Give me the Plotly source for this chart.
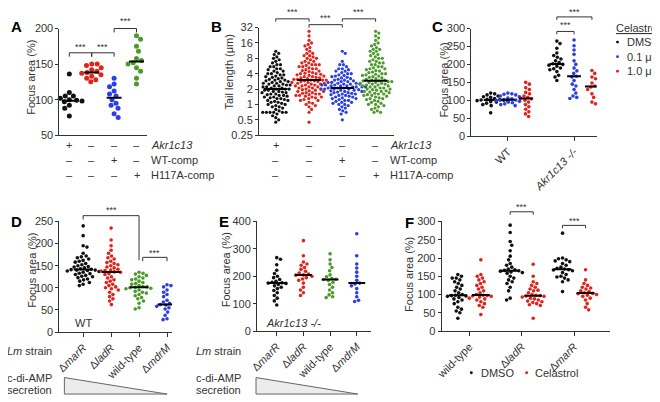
import numpy as np
import plotly.graph_objects as go

# page body has an 8px default margin; coordinates below are in screen pixels
OFF = 8
W, H = 660 - OFF, 402 - OFF
BLACK = '#111111'; RED = '#e2231a'; BLUE = '#2b3ee6'; GREEN = '#4c9a2a'
TXT = '#333333'
FONT = 'Arial, Liberation Sans, sans-serif'

# ---------------- data ----------------
# Panel A: focus area (%)
A_akr13 = [136, 110, 105, 105, 102, 100, 99, 98, 97, 96, 95, 92, 88, 77]
A_ko = [150, 150, 148, 145, 142, 140, 138, 137, 135, 133, 130, 128, 125]
A_wtcomp = [130, 122, 118, 112, 108, 105, 100, 95, 92, 88, 80, 75]
A_h117a = [190, 185, 175, 168, 158, 155, 152, 150, 145, 140, 130, 122]
A_rows = ['<i>Akr1c13</i>', 'WT-comp', 'H117A-comp']
A_signs = [['+', '–', '–', '–'], ['–', '–', '+', '–'], ['–', '–', '–', '+']]

# Panel B: tail length (um)
B_akr13 = [11, 10, 9.5, 8.5, 8, 7.5, 7, 6.5, 6, 6, 5.5, 5.5, 5, 5, 4.8, 4.5, 4.5, 4.2, 4, 4,
           3.8, 3.8, 3.6, 3.5, 3.4, 3.3, 3.2, 3.1, 3.0, 3.0, 2.9, 2.8, 2.8, 2.7, 2.6, 2.6, 2.5, 2.5,
           2.4, 2.4, 2.3, 2.3, 2.2, 2.2, 2.1, 2.1, 2.0, 2.0, 2.0, 1.9, 1.9, 1.8, 1.8, 1.75, 1.7, 1.7,
           1.6, 1.6, 1.55, 1.5, 1.5, 1.45, 1.4, 1.4, 1.35, 1.3, 1.3, 1.25, 1.2, 1.2, 1.15, 1.1, 1.1,
           1.05, 1.0, 1.0, 0.95, 0.9, 0.9, 0.85, 0.8, 0.75, 0.7, 0.7, 0.7, 0.7, 0.7, 0.7, 0.65, 0.6,
           0.55, 0.5, 0.45]
B_ko = [27, 22, 18, 16, 15, 14, 13, 12, 11, 10, 10, 9, 9, 8.5, 8, 8, 7.5, 7, 7, 6.5, 6.5, 6, 6, 6,
        5.8, 5.5, 5.5, 5.2, 5, 5, 4.8, 4.6, 4.5, 4.4, 4.2, 4.1, 4, 4, 3.9, 3.8, 3.7, 3.6, 3.5, 3.5,
        3.4, 3.3, 3.3, 3.2, 3.1, 3.1, 3.0, 3.0, 3.0, 2.9, 2.9, 2.8, 2.8, 2.7, 2.7, 2.6, 2.6, 2.5,
        2.5, 2.4, 2.4, 2.3, 2.3, 2.2, 2.2, 2.1, 2.1, 2.0, 2.0, 1.95, 1.9, 1.85, 1.8, 1.8, 1.7, 1.7,
        1.65, 1.6, 1.6, 1.55, 1.5, 1.5, 1.45, 1.4, 1.4, 1.35, 1.3, 1.25, 1.2, 1.2, 1.1, 1.05, 1.0,
        0.95, 0.9, 0.8, 0.7, 0.45]
B_wtcomp = [11, 10, 7, 6, 6, 5.5, 5, 5, 4.8, 4.5, 4.5, 4.2, 4, 4, 3.8, 3.7, 3.6, 3.5, 3.4, 3.3,
            3.2, 3.1, 3.0, 3.0, 2.9, 2.8, 2.8, 2.7, 2.7, 2.6, 2.6, 2.5, 2.5, 2.5, 2.4, 2.4, 2.4,
            2.3, 2.3, 2.3, 2.2, 2.2, 2.2, 2.2, 2.1, 2.1, 2.1, 2.0, 2.0, 2.0, 2.0, 1.95, 1.9, 1.9,
            1.85, 1.8, 1.8, 1.75, 1.7, 1.7, 1.65, 1.6, 1.6, 1.55, 1.5, 1.5, 1.45, 1.4, 1.4, 1.35,
            1.3, 1.3, 1.25, 1.2, 1.2, 1.15, 1.1, 1.1, 1.05, 1.0, 1.0, 0.95, 0.9, 0.85, 0.8, 0.75,
            0.7, 0.65, 0.5]
B_h117a = [27, 25, 22, 20, 18, 16, 15, 14, 13, 12, 12, 11, 11, 10, 9.5, 9, 8.5, 8, 8, 7.5, 7, 7,
           6.5, 6.5, 6, 6, 5.5, 5.5, 5.2, 5, 5, 4.8, 4.6, 4.5, 4.3, 4.2, 4, 4, 3.9, 3.8, 3.7, 3.6,
           3.5, 3.4, 3.3, 3.2, 3.1, 3.0, 3.0, 2.9, 2.9, 2.8, 2.8, 2.7, 2.7, 2.6, 2.6, 2.5, 2.5, 2.4,
           2.4, 2.3, 2.3, 2.2, 2.2, 2.1, 2.1, 2.0, 2.0, 1.95, 1.9, 1.85, 1.8, 1.8, 1.75, 1.7, 1.65,
           1.6, 1.6, 1.55, 1.5, 1.5, 1.45, 1.4, 1.35, 1.3, 1.3, 1.25, 1.2, 1.15, 1.1, 1.05, 1.0,
           1.0, 0.95, 0.9, 0.85, 0.8, 0.75, 0.7, 0.7]
B_ticks = [0.25, 0.5, 1, 2, 4, 8, 16, 32]
B_ticktext = ['0.25', '0.5', '1', '2', '4', '8', '16', '32']

# Panel C: focus area (%) by genotype and celastrol dose
C_categories = ['WT', '<i>Akr1c13 -/-</i>']
C_doses = ['DMSO', '0.1 μm', '1.0 μm']
C_wt_dmso = [120, 118, 115, 112, 110, 108, 105, 103, 102, 101, 100, 99, 98, 96, 95, 92, 88, 85, 65]
C_wt_01 = [120, 118, 117, 115, 112, 110, 106, 104, 102, 101, 100, 99, 97, 95, 93, 90, 88, 85]
C_wt_10 = [150, 145, 135, 130, 122, 118, 112, 108, 106, 104, 100, 95, 88, 82, 75, 68, 62, 55]
C_ko_dmso = [265, 258, 245, 232, 225, 220, 215, 210, 205, 202, 200, 198, 195, 190, 188, 185, 180,
             170, 165, 155]
C_ko_01 = [268, 252, 240, 228, 210, 200, 190, 182, 175, 167, 165, 155, 145, 140, 130, 120, 112,
           108, 105]
C_ko_10 = [183, 175, 165, 160, 148, 140, 137, 130, 118, 108, 95, 90]

# Panel D / E: Lm strains
strains = ['Δ<i>marR</i>', 'Δ<i>ladR</i>', 'wild-type', 'Δ<i>mdrM</i>']
D_marR = [240, 218, 195, 192, 178, 172, 170, 168, 165, 162, 160, 158, 155, 152, 150, 148, 147,
          145, 143, 142, 141, 140, 140, 139, 138, 137, 135, 133, 132, 130, 128, 126, 125, 123,
          120, 118, 115, 112, 108, 105]
D_ladR = [235, 208, 195, 185, 178, 172, 168, 165, 160, 157, 155, 152, 150, 147, 145, 142, 140,
          139, 138, 136, 135, 132, 130, 125, 122, 118, 115, 112, 108, 105, 102, 100, 98, 95, 90,
          85, 80, 75, 70, 62]
D_wt = [135, 133, 131, 128, 125, 122, 120, 118, 115, 112, 110, 108, 105, 103, 102, 101, 100, 99,
        98, 95, 92, 90, 88, 85, 82, 78, 75, 70, 65, 55, 52]
D_mdrM = [107, 105, 102, 95, 90, 85, 80, 72, 68, 65, 63, 62, 61, 60, 58, 57, 55, 52, 50, 45, 38,
          30, 28]
E_marR = [268, 262, 242, 222, 210, 200, 195, 188, 182, 178, 176, 175, 174, 170, 165, 160, 155,
          148, 140, 130, 120, 110, 95]
E_ladR = [330, 275, 252, 245, 240, 232, 225, 218, 212, 208, 205, 204, 200, 195, 190, 185, 175,
          160, 150, 140, 130]
E_wt = [282, 260, 245, 232, 220, 205, 198, 192, 189, 188, 185, 178, 170, 160, 150, 140, 132, 125,
        122]
E_mdrM = [355, 275, 245, 230, 215, 200, 185, 175, 172, 165, 155, 140, 125, 112, 108]

# Panel F
F_categories = ['wild-type', 'Δ<i>ladR</i>', 'Δ<i>marR</i>']
F_wt_dmso = [155, 150, 145, 145, 140, 135, 130, 125, 120, 115, 110, 105, 100, 98, 97, 96, 95, 92,
             88, 85, 80, 75, 65, 60, 55, 50, 35]
F_wt_cel = [195, 155, 150, 145, 140, 135, 130, 125, 120, 115, 110, 105, 100, 98, 97, 96, 95, 93,
            90, 88, 85, 80, 75, 70, 65, 45]
F_ladR_dmso = [290, 270, 245, 235, 220, 205, 195, 185, 180, 175, 170, 168, 166, 165, 164, 162,
               160, 158, 150, 145, 140, 135, 130, 120, 110, 90, 85]
F_ladR_cel = [183, 150, 135, 130, 125, 120, 115, 112, 110, 105, 100, 98, 97, 96, 95, 93, 90, 88,
              85, 82, 80, 78, 75, 72, 70, 35]
F_marR_dmso = [268, 200, 198, 195, 192, 190, 185, 180, 175, 172, 170, 168, 167, 165, 160, 155,
               150, 148, 145, 140, 135, 108]
F_marR_cel = [168, 140, 130, 125, 120, 118, 115, 110, 108, 105, 103, 102, 100, 98, 95, 90, 85,
              75, 65, 58]

# ---------------- layout config ----------------
# box = (x0, x1, y0, y1) in screen pixels; p0 = pixel of x position 0; ppu = pixels per x unit
P = {
    1: dict(box=(53, 142, 23, 133), yr=(50, 200), log=False, p0=63, ppu=22.67, ms=5.0, hw=7.5,
            yt=[50, 100, 150, 200]),
    2: dict(box=(255, 392, 22, 133), yr=(0.25, 32), log=True, p0=272, ppu=33.7, ms=3.2, hw=12,
            yt=B_ticks),
    3: dict(box=(470, 597, 23, 134), yr=(0, 300), log=False, p0=507, ppu=67, ms=3.6, hw=7,
            yt=[0, 50, 100, 150, 200, 250, 300]),
    4: dict(box=(53, 167, 222, 336), yr=(0, 250), log=False, p0=77, ppu=28.3, ms=3.6, hw=9.5,
            yt=[0, 50, 100, 150, 200, 250]),
    5: dict(box=(253, 368, 222, 335), yr=(0, 400), log=False, p0=273, ppu=27, ms=3.6, hw=8.5,
            yt=[0, 100, 200, 300, 400]),
    6: dict(box=(440, 610, 222, 335), yr=(0, 300), log=False, p0=468, ppu=53, ms=3.6, hw=9,
            yt=[0, 50, 100, 150, 200, 250, 300]),
}
SUB_C = [-0.26, 0.0, 0.27]
SUB_F = [-0.22, 0.22]

groups = {
    1: [(0, A_akr13, BLACK), (1, A_ko, RED), (2, A_wtcomp, BLUE), (3, A_h117a, GREEN)],
    2: [(0, B_akr13, BLACK), (1, B_ko, RED), (2, B_wtcomp, BLUE), (3, B_h117a, GREEN)],
    3: [(0 + SUB_C[0], C_wt_dmso, BLACK), (0 + SUB_C[1], C_wt_01, BLUE), (0 + SUB_C[2], C_wt_10, RED),
        (1 + SUB_C[0], C_ko_dmso, BLACK), (1 + SUB_C[1], C_ko_01, BLUE), (1 + SUB_C[2], C_ko_10, RED)],
    4: [(0, D_marR, BLACK), (1, D_ladR, RED), (2, D_wt, GREEN), (3, D_mdrM, BLUE)],
    5: [(0, E_marR, BLACK), (1, E_ladR, RED), (2, E_wt, GREEN), (3, E_mdrM, BLUE)],
    6: [(0 + SUB_F[0], F_wt_dmso, BLACK), (0 + SUB_F[1], F_wt_cel, RED),
        (1 + SUB_F[0], F_ladR_dmso, BLACK), (1 + SUB_F[1], F_ladR_cel, RED),
        (2 + SUB_F[0], F_marR_dmso, BLACK), (2 + SUB_F[1], F_marR_cel, RED)],
}


def ypx(k, v):
    c = P[k]; x0, x1, y0, y1 = c['box']; r0, r1 = c['yr']
    if c['log']:
        t = (np.log2(v) - np.log2(r0)) / (np.log2(r1) - np.log2(r0))
    else:
        t = (v - r0) / (r1 - r0)
    return y1 - t * (y1 - y0)


def xpx(k, pos):
    return P[k]['p0'] + pos * P[k]['ppu']


def fx(px):
    return (px - OFF) / W


def fy(py):
    return 1 - (py - OFF) / H


def swarm(ys, d):
    ys = np.asarray(ys, float)
    order = np.argsort(ys, kind='stable')
    xs = np.zeros(len(ys)); placed = []
    for i in order:
        y = ys[i]
        near = [(a, b) for (a, b) in placed if abs(b - y) < d]
        cands = [0.0]
        for a, b in near:
            dx = np.sqrt(max(d * d - (b - y) ** 2, 0.0))
            cands += [a + dx, a - dx]
        cands.sort(key=lambda c: (round(abs(c), 6), -c if len(placed) % 2 else c))
        for c in cands:
            if all((c - a) ** 2 + (y - b) ** 2 >= d * d - 1e-6 for a, b in near):
                xs[i] = c
                break
        placed.append((xs[i], y))
    return xs


fig = go.Figure()
layout = dict(width=W, height=H, margin=dict(l=0, r=0, t=0, b=0), plot_bgcolor='white',
              paper_bgcolor='white', showlegend=False, font=dict(family=FONT, size=11, color=TXT))

for k, c in P.items():
    x0, x1, y0, y1 = c['box']
    sx = '' if k == 1 else str(k)
    xr = [(x0 - c['p0']) / c['ppu'], (x1 - c['p0']) / c['ppu']]
    yr = [np.log10(c['yr'][0]), np.log10(c['yr'][1])] if c['log'] else list(c['yr'])
    xa = dict(domain=[fx(x0), fx(x1)], range=xr, anchor='y' + sx, showline=True, linecolor=TXT,
              linewidth=1, showgrid=False, zeroline=False, showticklabels=False, ticks='',
              fixedrange=True)
    ya = dict(domain=[fy(y1), fy(y0)], range=yr, anchor='x' + sx, showline=True, linecolor=TXT,
              linewidth=1, showgrid=False, zeroline=False, ticks='outside', ticklen=3,
              tickcolor=TXT, tickvals=c['yt'], tickfont=dict(size=11, color=TXT),
              type='log' if c['log'] else 'linear')
    if k == 2:
        ya['ticktext'] = B_ticktext
    if k == 3:
        xa.update(showticklabels=True, ticks='outside', ticklen=4, tickcolor=TXT, tickvals=[0, 1],
                  ticktext=C_categories, tickangle=-45, tickfont=dict(size=11, color=TXT))
    if k in (4, 5):
        xa.update(showticklabels=True, ticks='outside', ticklen=4, tickcolor=TXT,
                  tickvals=[0, 1, 2, 3], ticktext=strains, tickangle=-45,
                  tickfont=dict(size=11, color=TXT))
    if k == 6:
        xa.update(showticklabels=True, ticks='outside', ticklen=4, tickcolor=TXT,
                  tickvals=[0, 1, 2], ticktext=F_categories, tickangle=-45,
                  tickfont=dict(size=11, color=TXT))
    layout['xaxis' + sx] = xa
    layout['yaxis' + sx] = ya

    for pos, vals, col in groups[k]:
        ys = [ypx(k, v) for v in vals]
        offs = swarm(ys, c['ms'] + 0.5)
        xs = [pos + o / c['ppu'] for o in offs]
        fig.add_trace(go.Scatter(x=xs, y=vals, mode='markers', xaxis='x' + sx, yaxis='y' + sx,
                                 marker=dict(size=c['ms'], color=col, line=dict(width=0)),
                                 cliponaxis=False, hoverinfo='skip'))
        med = float(np.median(vals))
        hwu = c['hw'] / c['ppu']
        fig.add_trace(go.Scatter(x=[pos - hwu, pos + hwu], y=[med, med], mode='lines',
                                 xaxis='x' + sx, yaxis='y' + sx,
                                 line=dict(color='black', width=2), hoverinfo='skip'))

shapes = []
ann = []


def text(px, py, s, size=11, xanchor='center', color=TXT, angle=0, bold=False):
    if bold:
        s = '<b>' + s + '</b>'
    ann.append(dict(x=fx(px), y=fy(py), xref='paper', yref='paper', text=s, showarrow=False,
                    xanchor=xanchor, yanchor='middle', textangle=angle, borderpad=0,
                    font=dict(size=size, color=color, family=FONT)))


def bracket(k, pa, pb, ybar, la, lb, sy=None):
    xa_, xb_ = xpx(k, pa), xpx(k, pb)
    path = (f"M {fx(xa_)},{fy(la)} L {fx(xa_)},{fy(ybar)} L {fx(xb_)},{fy(ybar)} "
            f"L {fx(xb_)},{fy(lb)}")
    shapes.append(dict(type='path', path=path, xref='paper', yref='paper',
                       line=dict(color=TXT, width=1)))
    text((xa_ + xb_) / 2, (sy if sy is not None else ybar - 6), '***', size=9, color=TXT)


# panel letters
for lt, px, py in [('A', 10, 21), ('B', 212, 21), ('C', 436, 21), ('D', 10, 222),
                   ('E', 220, 222), ('F', 407, 223)]:
    text(px, py, lt, size=15, bold=True, color='#000000')

# y-axis titles
text(24, 73, 'Focus area (%)', angle=-90)
text(225, 68, 'Tail length (μm)', angle=-90)
text(442, 76, 'Focus area (%)', angle=-90)
text(25, 272, 'Focus area (%)', angle=-90)
text(222, 272, 'Focus area (%)', angle=-90)
text(407, 277, 'Focus area (%)', angle=-90)

# sign rows for A and B
row_y = [143, 159, 174]
for k, lx in [(1, 145), (2, 387)]:
    for r, yy in enumerate(row_y):
        for g in range(4):
            text(xpx(k, g), yy, A_signs[r][g], size=11)
        text(lx, yy, A_rows[r], size=11, xanchor='left')

# brackets
bracket(1, 0, 1, 48, 52, 52)
bracket(1, 1, 2, 48, 52, 52)
bracket(1, 2, 3, 23, 27, 27, sy=15)
bracket(2, 0, 1, 13, 16, 16, sy=6)
bracket(2, 1, 2, 19, 22, 22, sy=12)
bracket(2, 2, 3, 13, 16, 16, sy=6)
bracket(3, 1 + SUB_C[0], 1 + SUB_C[1], 26, 29, 29, sy=19)
bracket(3, 1 + SUB_C[0], 1 + SUB_C[2], 11, 14, 14, sy=5.5)
bracket(4, 0, 2, 216, 220, 262, sy=210)
bracket(4, 2.13, 3, 259, 263, 263, sy=254)
bracket(6, 1 + SUB_F[0], 1 + SUB_F[1], 212, 215, 215, sy=207)
bracket(6, 2 + SUB_F[0], 2 + SUB_F[1], 226, 229, 229, sy=221)

# C legend
text(615, 22, '<u>Celastrol</u>', size=11, xanchor='left')
for i, (lab, col) in enumerate(zip(C_doses, [BLACK, BLUE, RED])):
    yy = 37 + 15 * i
    shapes.append(dict(type='circle', xref='paper', yref='paper', x0=fx(616.5), x1=fx(619.5),
                       y0=fy(yy + 1.5), y1=fy(yy - 1.5), fillcolor=col, line=dict(width=0)))
    text(627, yy, lab, size=11, xanchor='left')

# F legend
for lab, col, dx, tx in [('DMSO', BLACK, 470, 479), ('Celastrol', RED, 526, 533)]:
    shapes.append(dict(type='circle', xref='paper', yref='paper', x0=fx(dx - 1.5), x1=fx(dx + 1.5),
                       y0=fy(379.5), y1=fy(376.5), fillcolor=col, line=dict(width=0)))
    text(tx, 378, lab, size=11, xanchor='left')

# inside labels
text(68, 327, 'WT', size=11, xanchor='left')
text(261, 327, '<i>Akr1c13 -/-</i>', size=11, xanchor='left')

# Lm strain / c-di-AMP annotations and triangles
for rx, t0, t1 in [(46, 58, 162), (238, 252, 355)]:
    text(rx, 356, '<i>Lm</i> strain', size=11, xanchor='right')
    text(rx, 383, 'c-di-AMP', size=11, xanchor='right')
    text(rx, 396, 'secretion', size=11, xanchor='right')
    path = f"M {fx(t0)},{fy(383)} L {fx(t0)},{fy(400)} L {fx(t1)},{fy(400)} Z"
    shapes.append(dict(type='path', path=path, xref='paper', yref='paper',
                       fillcolor='#ececec', line=dict(color='#666666', width=1)))

layout['shapes'] = shapes
layout['annotations'] = ann
fig.update_layout(**layout)
fig.write_html('out.html')
